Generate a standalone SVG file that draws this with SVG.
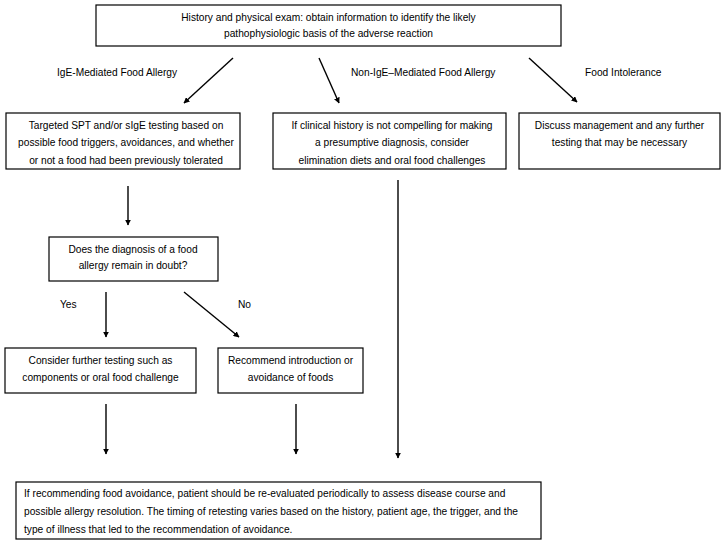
<svg xmlns="http://www.w3.org/2000/svg" width="726" height="544" viewBox="0 0 726 544">
<style>
rect.box{fill:#fff;stroke:#000;stroke-width:1.2}
text{font-family:"Liberation Sans",Arial,sans-serif;font-size:10.2px;fill:#000}
.c{text-anchor:middle}
line.a{stroke:#000;stroke-width:1.4;marker-end:url(#ah)}
</style>
<defs>
<marker id="ah" viewBox="0 0 10 10" refX="9" refY="5" markerWidth="6" markerHeight="6" orient="auto" markerUnits="userSpaceOnUse">
<path d="M0,0 L10,5 L0,10 z" fill="#000"/>
</marker>
</defs>
<rect width="726" height="544" fill="#fff"/>
<g id="connectors">
<line class="a" x1="233" y1="58" x2="184" y2="103"/>
<line class="a" x1="319" y1="58" x2="339" y2="103"/>
<line class="a" x1="529" y1="58" x2="577" y2="102"/>
<line class="a" x1="128" y1="186" x2="128" y2="225"/>
<line class="a" x1="106" y1="292" x2="106" y2="337"/>
<line class="a" x1="184" y1="292" x2="239" y2="337"/>
<line class="a" x1="106" y1="404" x2="106" y2="454"/>
<line class="a" x1="296" y1="404" x2="296" y2="454"/>
<line class="a" x1="398" y1="180" x2="398" y2="458"/>
<text x="57" y="76">IgE-Mediated Food Allergy</text>
<text x="351" y="76">Non-IgE–Mediated Food Allergy</text>
<text x="585" y="76">Food Intolerance</text>
<text x="60" y="308">Yes</text>
<text x="238" y="308">No</text>
</g>
<g id="n1">
<rect class="box" x="96" y="5" width="465" height="41"/>
<text class="c" x="328.5" y="21">History and physical exam: obtain information to identify the likely</text>
<text class="c" x="328.5" y="37">pathophysiologic basis of the adverse reaction</text>
</g>
<g id="n2">
<rect class="box" x="6" y="113" width="234" height="56"/>
<text class="c" x="126" y="128.5">Targeted SPT and/or sIgE testing based on</text>
<text class="c" x="126" y="146">possible food triggers, avoidances, and whether</text>
<text class="c" x="126" y="163.5">or not a food had been previously tolerated</text>
</g>
<g id="n3">
<rect class="box" x="273" y="113" width="233" height="56"/>
<text class="c" x="392" y="128.5">If clinical history is not compelling for making</text>
<text class="c" x="392" y="146">a presumptive diagnosis, consider</text>
<text class="c" x="392" y="163.5">elimination diets and oral food challenges</text>
</g>
<g id="n4">
<rect class="box" x="519" y="113" width="201" height="56"/>
<text class="c" x="619.5" y="128.5">Discuss management and any further</text>
<text class="c" x="619.5" y="146">testing that may be necessary</text>
</g>
<g id="n5">
<rect class="box" x="49" y="237" width="169" height="44"/>
<text class="c" x="133" y="253">Does the diagnosis of a food</text>
<text class="c" x="133" y="269">allergy remain in doubt?</text>
</g>
<g id="n6">
<rect class="box" x="5" y="348" width="191" height="45"/>
<text class="c" x="100.5" y="364">Consider further testing such as</text>
<text class="c" x="100.5" y="381">components or oral food challenge</text>
</g>
<g id="n7">
<rect class="box" x="218" y="348" width="145" height="45"/>
<text class="c" x="290.5" y="364">Recommend introduction or</text>
<text class="c" x="290.5" y="381">avoidance of foods</text>
</g>
<g id="n8">
<rect class="box" x="16" y="482" width="525" height="57"/>
<text x="24" y="497">If recommending food avoidance, patient should be re-evaluated periodically to assess disease course and</text>
<text x="24" y="515">possible allergy resolution. The timing of retesting varies based on the history, patient age, the trigger, and the</text>
<text x="24" y="533">type of illness that led to the recommendation of avoidance.</text>
</g>
</svg>
